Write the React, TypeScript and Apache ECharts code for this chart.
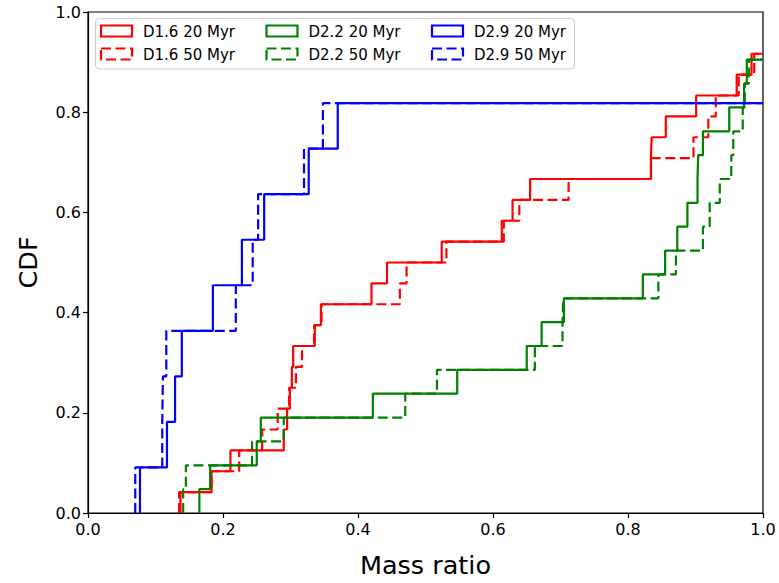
import React, { useEffect, useRef } from "react";
import * as echarts from "echarts";

// Sample values (mass ratio) at which each CDF steps up
const d16_20 = [0.137, 0.183, 0.211, 0.290, 0.295, 0.299, 0.302, 0.304, 0.336, 0.345, 0.420, 0.443, 0.524, 0.613, 0.629, 0.655, 0.834, 0.835, 0.856, 0.901, 0.961, 0.983];
const d16_50 = [0.135, 0.183, 0.224, 0.258, 0.281, 0.298, 0.308, 0.317, 0.335, 0.346, 0.462, 0.472, 0.531, 0.616, 0.639, 0.712, 0.834, 0.897, 0.919, 0.930, 0.964, 0.987];
const d22_20 = [0.165, 0.181, 0.250, 0.256, 0.422, 0.547, 0.650, 0.672, 0.705, 0.822, 0.855, 0.873, 0.888, 0.903, 0.904, 0.911, 0.950, 0.972, 0.976];
const d22_50 = [0.141, 0.145, 0.243, 0.290, 0.470, 0.517, 0.662, 0.703, 0.704, 0.845, 0.871, 0.911, 0.921, 0.936, 0.953, 0.956, 0.970, 0.973, 0.979];
const d29_20 = [0.077, 0.117, 0.129, 0.139, 0.185, 0.228, 0.261, 0.327, 0.370];
const d29_50 = [0.070, 0.110, 0.111, 0.116, 0.219, 0.244, 0.252, 0.320, 0.348];

// total sample counts per model (some samples lie beyond the plotted range)
const totals = [24, 24, 21, 21, 11, 11];

const seriesNames = ["D1.6 20 Myr", "D1.6 50 Myr", "D2.2 20 Myr", "D2.2 50 Myr", "D2.9 20 Myr", "D2.9 50 Myr"];
const seriesSamples = [d16_20, d16_50, d22_20, d22_50, d29_20, d29_50];
const seriesColors = ["#ff0000", "#ff0000", "#008000", "#008000", "#0000ff", "#0000ff"];
const seriesDashed = [false, true, false, true, false, true];

const xTicks = [0, 0.2, 0.4, 0.6, 0.8, 1.0];
const yTicks = [0, 0.2, 0.4, 0.6, 0.8, 1.0];

const FONT = "DejaVu Sans";
const DASH = [10, 4.5];

function staircase(samples: number[], total: number): number[][] {
  const pts: number[][] = [];
  let level = 0;
  samples.forEach((x) => {
    pts.push([x, level]);
    level += 1 / total;
    pts.push([x, level]);
  });
  pts.push([1, level]);
  return pts;
}

export default function App() {
  const ref = useRef<HTMLDivElement>(null);
  useEffect(() => {
    document.body.style.margin = "0";
    if (!ref.current) return;
    const chart = echarts.init(ref.current, undefined, { renderer: "svg" });

    const series = seriesNames.map((name, i) => ({
      name,
      type: "line",
      data: staircase(seriesSamples[i], totals[i]),
      showSymbol: false,
      symbol: "none",
      clip: true,
      lineStyle: {
        color: seriesColors[i],
        width: 2.2,
        type: seriesDashed[i] ? DASH : "solid",
      },
      z: 2 + i,
    }));

    const legendEls: any[] = [
      {
        type: "rect",
        shape: { x: 95.5, y: 18.5, width: 479, height: 50.5, r: 4 },
        style: { fill: "rgba(255,255,255,0.8)", stroke: "#cccccc", lineWidth: 1 },
        z: 100,
      },
    ];
    seriesNames.forEach((name, i) => {
      const col = Math.floor(i / 2);
      const row = i % 2;
      const ix = 101 + col * 165.5;
      const iy = row === 0 ? 25.5 : 48.5;
      legendEls.push({
        type: "rect",
        shape: { x: ix, y: iy, width: 31, height: 11 },
        style: {
          fill: "none",
          stroke: seriesColors[i],
          lineWidth: 2.2,
          lineDash: seriesDashed[i] ? DASH : null,
        },
        z: 101,
      });
      legendEls.push({
        type: "text",
        x: ix + 42,
        y: iy + 6,
        style: {
          text: name,
          fill: "#000",
          font: `15px "${FONT}"`,
          verticalAlign: "middle",
          align: "left",
        },
        z: 101,
      });
    });

    chart.setOption({
      animation: false,
      backgroundColor: "#ffffff",
      grid: {
        left: 88,
        top: 12,
        width: 675,
        height: 503,
        show: true,
        borderColor: "#000",
        borderWidth: 1.2,
        backgroundColor: "transparent",
      },
      xAxis: {
        type: "value",
        min: xTicks[0],
        max: xTicks[xTicks.length - 1],
        interval: 0.2,
        name: "Mass ratio",
        nameLocation: "middle",
        nameGap: 39,
        nameTextStyle: { fontSize: 25.5, color: "#000", fontFamily: FONT },
        axisLine: { show: true, lineStyle: { color: "#000", width: 1.2 } },
        axisTick: { show: true, length: 5, lineStyle: { color: "#000", width: 1.2 } },
        axisLabel: {
          formatter: (v: number) => v.toFixed(1),
          color: "#000",
          fontSize: 16,
          fontFamily: FONT,
          margin: 8,
          showMinLabel: true,
          showMaxLabel: true,
        },
        splitLine: { show: false },
      },
      yAxis: {
        type: "value",
        min: yTicks[0],
        max: yTicks[yTicks.length - 1],
        interval: 0.2,
        name: "CDF",
        nameLocation: "middle",
        nameGap: 47,
        nameTextStyle: { fontSize: 25.5, color: "#000", fontFamily: FONT },
        axisLine: { show: true, lineStyle: { color: "#000", width: 1.2 } },
        axisTick: { show: true, length: 5, lineStyle: { color: "#000", width: 1.2 } },
        axisLabel: {
          formatter: (v: number) => v.toFixed(1),
          color: "#000",
          fontSize: 16,
          fontFamily: FONT,
          margin: 7,
          showMinLabel: true,
          showMaxLabel: true,
        },
        splitLine: { show: false },
      },
      series,
      graphic: legendEls,
    });
    return () => chart.dispose();
  }, []);
  return <div ref={ref} style={{ width: 779, height: 583 }} />;
}
